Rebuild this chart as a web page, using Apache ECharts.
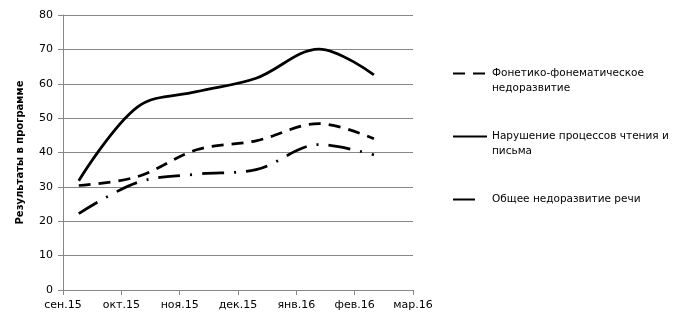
<!DOCTYPE html>
<html>
<head>
<meta charset="utf-8">
<script src="https://cdn.jsdelivr.net/npm/echarts@6/dist/echarts.min.js"></script>
<style>
  html, body { margin: 0; padding: 0; background: #fff; }
  #chart { width: 684px; height: 323px; }
</style>
</head>
<body>
<div id="chart"></div>
<script>
// Month tick labels on the horizontal axis (one per month, starting at 0)
const monthLabels = ['сен.15', 'окт.15', 'ноя.15', 'дек.15', 'янв.16', 'фев.16', 'мар.16'];

// Measurement moments, in months counted from the start of September 2015
const measureMonths = [0.27, 1.28, 2.29, 3.31, 4.39, 5.33];

// Results per group
const seriesNames = [
  'Фонетико-фонематическое недоразвитие',
  'Нарушение процессов чтения и письма',
  'Общее недоразвитие речи'
];
const phoneticValues = [30.4, 33.0, 40.8, 43.4, 48.4, 44.0];
const readingWritingValues = [31.8, 53.3, 57.7, 61.6, 70.1, 62.6];
const generalValues = [22.2, 31.3, 33.7, 35.0, 42.3, 39.3];

const yAxisTitle = 'Результаты в программе';

const font = 'DejaVu Sans';
const gridGray = '#878787';

function pairs(values) {
  return values.map((v, i) => [measureMonths[i], v]);
}

// Legend text: the key line sits level with the first text line,
// so an empty line is added above (and below for one-line names).
function wrapName(name) {
  if (name === seriesNames[0]) return '\nФонетико-фонематическое\nнедоразвитие';
  if (name === seriesNames[1]) return '\nНарушение процессов чтения и\nписьма';
  return '\n' + name + '\n';
}

const chart = echarts.init(document.getElementById('chart'), null, { renderer: 'canvas' });

const lineBase = {
  type: 'line',
  smooth: 0.35,
  showSymbol: false,
  symbol: 'none',
  silent: true,
  animation: false
};

chart.setOption({
  backgroundColor: '#ffffff',
  animation: false,
  grid: { left: 63, right: 271, top: 15, bottom: 33, containLabel: false },
  xAxis: {
    type: 'value',
    min: 0,
    max: 6,
    interval: 1,
    axisLine: { show: true, lineStyle: { color: gridGray, width: 1 } },
    axisTick: { show: true, length: 5, lineStyle: { color: gridGray } },
    splitLine: { show: false },
    axisLabel: {
      color: '#000',
      fontFamily: font,
      fontSize: 11,
      margin: 10,
      showMinLabel: true,
      showMaxLabel: true,
      formatter: v => monthLabels[Math.round(v)] || ''
    }
  },
  yAxis: {
    type: 'value',
    min: 0,
    max: 80,
    interval: 10,
    name: yAxisTitle,
    nameLocation: 'middle',
    nameRotate: 90,
    nameGap: 38,
    nameTextStyle: { color: '#000', fontFamily: font, fontSize: 10, fontWeight: 'bold' },
    axisLine: { show: true, lineStyle: { color: gridGray, width: 1 } },
    axisTick: { show: true, length: 5, lineStyle: { color: gridGray } },
    splitLine: { show: true, lineStyle: { color: gridGray, width: 1 } },
    axisLabel: { color: '#000', fontFamily: font, fontSize: 11, margin: 10 }
  },
  legend: {
    orient: 'vertical',
    left: 452,
    top: 51,
    padding: 0,
    itemGap: 18,
    itemWidth: 34,
    itemHeight: 14,
    itemStyle: { opacity: 0 },
    textStyle: { color: '#000', fontFamily: font, fontSize: 10.5, lineHeight: 15 },
    formatter: wrapName,
    data: [
      { name: seriesNames[0] },
      { name: seriesNames[1] },
      { name: seriesNames[2], lineStyle: { type: [22, 30] } }
    ]
  },
  series: [
    Object.assign({}, lineBase, {
      name: seriesNames[0],
      data: pairs(phoneticValues),
      lineStyle: { color: '#000', width: 2.75, type: [12, 8], cap: 'butt' },
      itemStyle: { color: '#000' }
    }),
    Object.assign({}, lineBase, {
      name: seriesNames[1],
      data: pairs(readingWritingValues),
      lineStyle: { color: '#000', width: 2.75, type: 'solid', cap: 'butt' },
      itemStyle: { color: '#000' }
    }),
    Object.assign({}, lineBase, {
      name: seriesNames[2],
      data: pairs(generalValues),
      lineStyle: { color: '#000', width: 2.75, type: [22, 10, 2, 10], cap: 'butt' },
      itemStyle: { color: '#000' }
    })
  ]
});
</script>
</body>
</html>
